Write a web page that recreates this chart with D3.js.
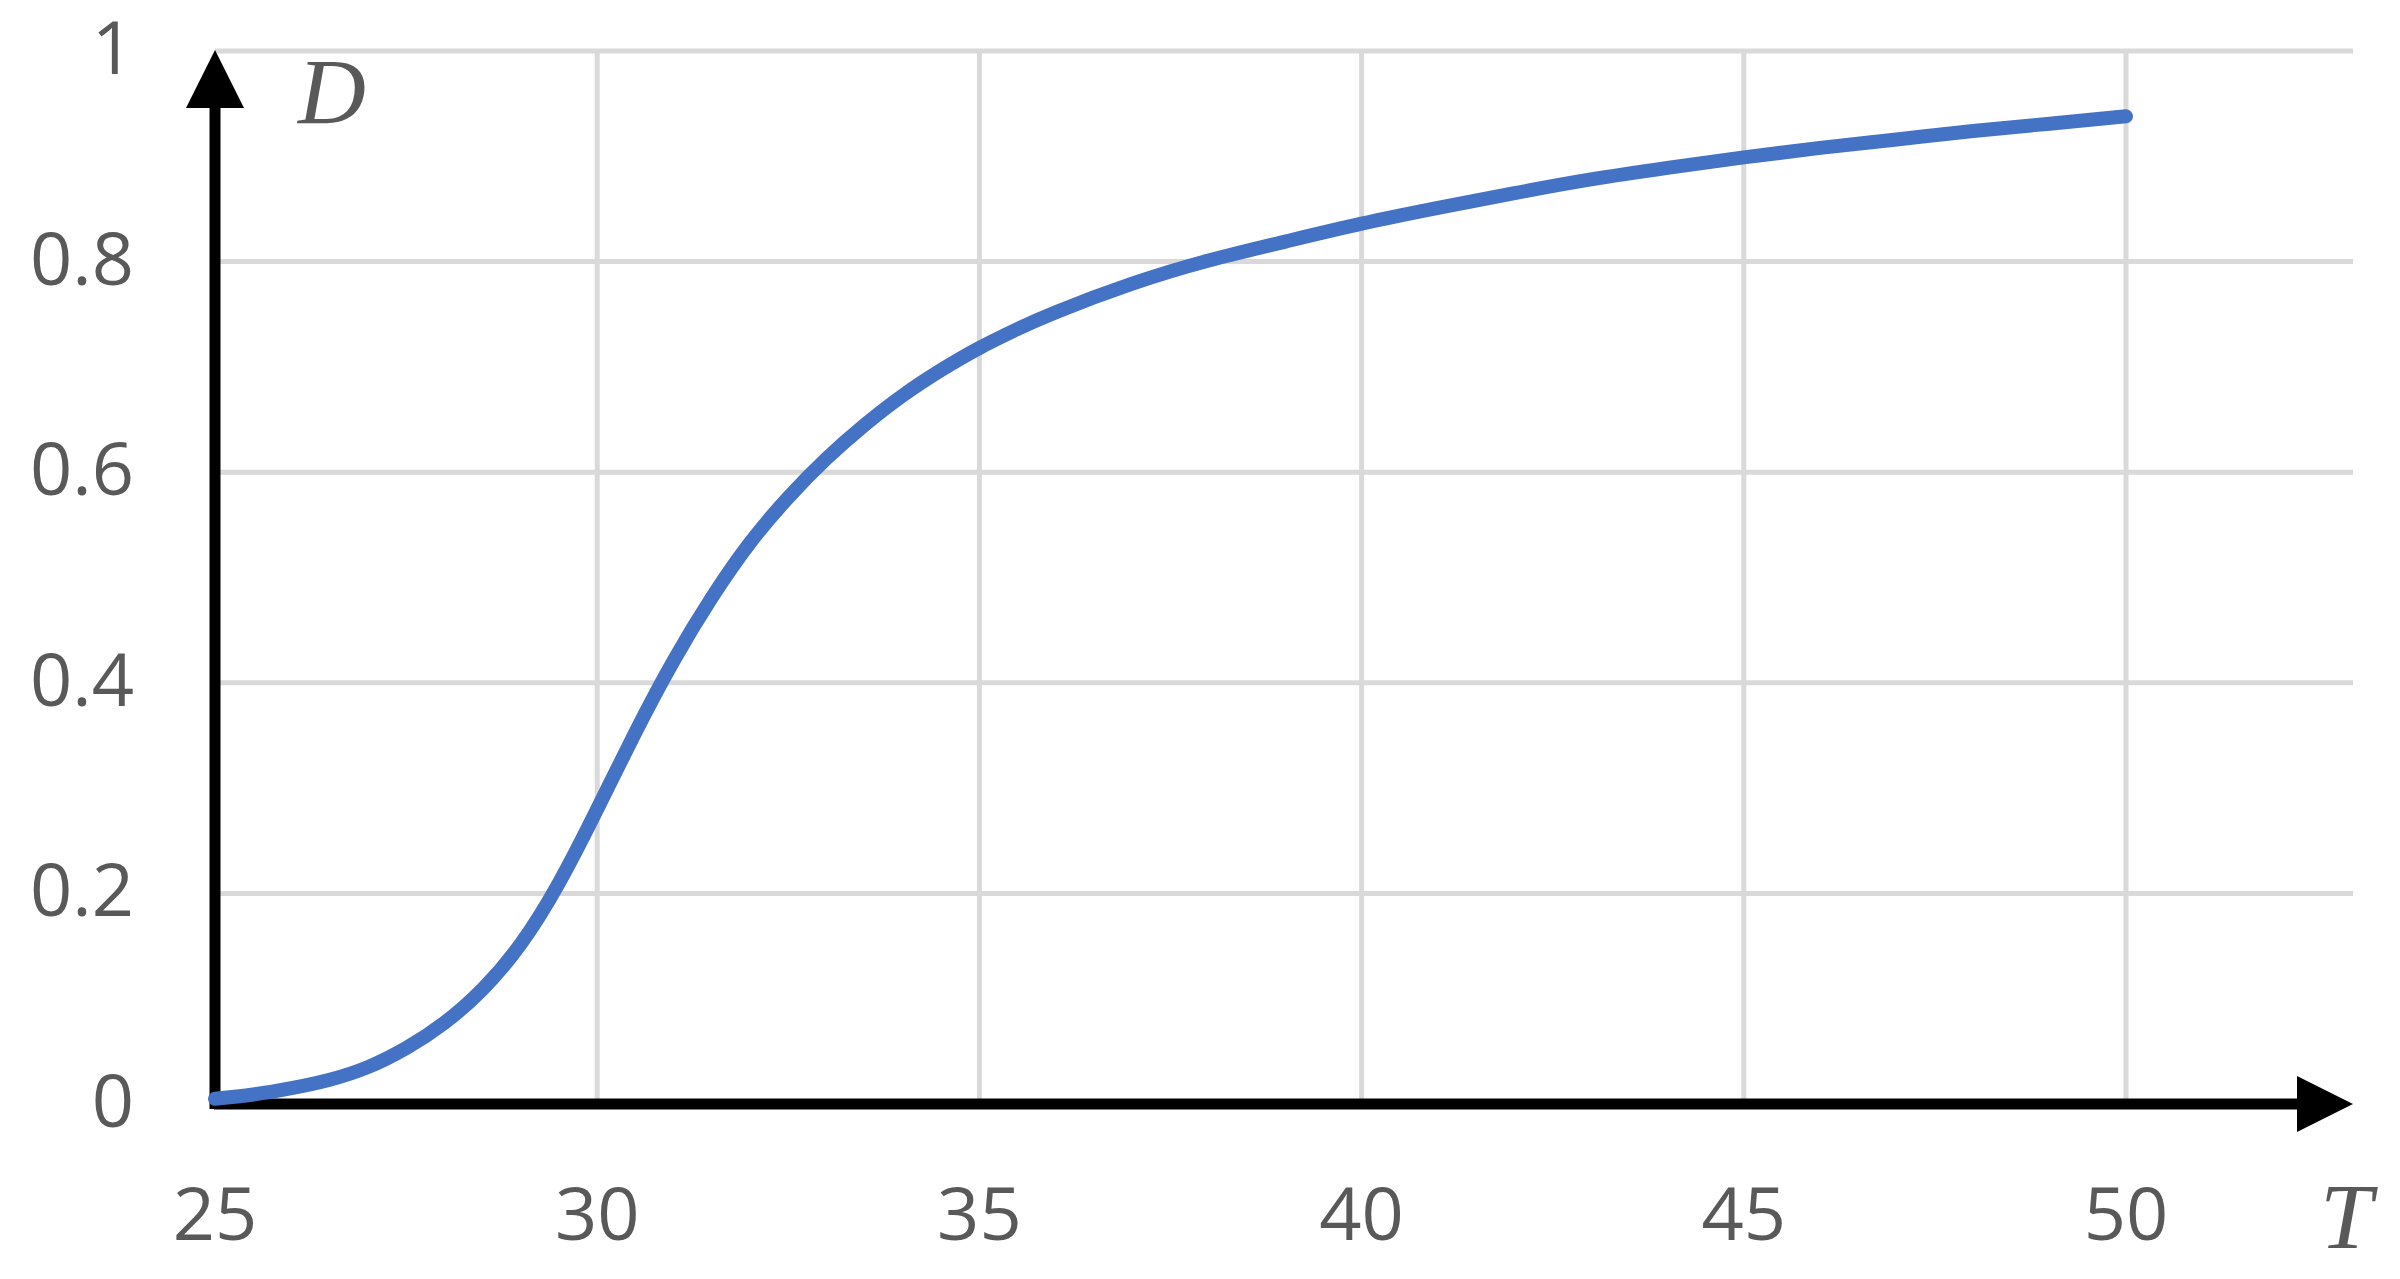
<!DOCTYPE html>
<html>
<head>
<meta charset="utf-8">
<script src="https://cdn.jsdelivr.net/npm/d3@7"></script>
<style>
  html, body { margin: 0; padding: 0; background: #fff; }
  svg { display: block; }
</style>
</head>
<body>
<svg id="chart" width="2400" height="1279"></svg>
<script>
// ---- data ----
const tValues = [25, 25.5, 26, 26.5, 27, 27.5, 28, 28.5, 29, 29.5, 30, 30.5, 31, 31.5, 32, 32.5, 33, 33.5, 34, 34.5, 35, 35.5, 36, 37, 38, 39, 40, 41, 42, 43, 44, 45, 46, 47, 48, 49, 50];
const dValues = [0.005, 0.009, 0.015, 0.023, 0.035, 0.053, 0.077, 0.109, 0.152, 0.210, 0.280, 0.353, 0.421, 0.481, 0.533, 0.576, 0.613, 0.645, 0.673, 0.697, 0.718, 0.736, 0.752, 0.779, 0.801, 0.819, 0.836, 0.851, 0.865, 0.878, 0.889, 0.899, 0.908, 0.916, 0.924, 0.931, 0.938];
const xTicks = [25, 30, 35, 40, 45, 50];
const yTicks = [0, 0.2, 0.4, 0.6, 0.8, 1];
const yTickLabels = ["0", "0.2", "0.4", "0.6", "0.8", "1"];
const xAxisTitle = "T";
const yAxisTitle = "D";

(function () {
// ---- layout ----
const svg = d3.select("#chart");
const pLeft = 215, pRight = 2353, pTop = 51, pBottom = 1104;
const x = d3.scaleLinear().domain([25, 50]).range([pLeft, 2126]);
const y = d3.scaleLinear().domain([0, 1]).range([pBottom, pTop]);

const gridColor = "#d9d9d9";
const textColor = "#595959";

// gridlines
const grid = svg.append("g");
grid.selectAll("line.h").data(yTicks.filter(d => d > 0)).join("line")
  .attr("class", "h")
  .attr("x1", pLeft).attr("x2", pRight)
  .attr("y1", d => y(d)).attr("y2", d => y(d))
  .attr("stroke", gridColor).attr("stroke-width", 5);
grid.selectAll("line.v").data(xTicks.filter(d => d > 25)).join("line")
  .attr("class", "v")
  .attr("x1", d => x(d)).attr("x2", d => x(d))
  .attr("y1", pTop).attr("y2", pBottom)
  .attr("stroke", gridColor).attr("stroke-width", 5);

// axes (arrows)
const axes = svg.append("g");
axes.append("line")
  .attr("x1", pLeft).attr("x2", pLeft)
  .attr("y1", pBottom + 5).attr("y2", pTop + 57)
  .attr("stroke", "#000").attr("stroke-width", 11);
axes.append("path")
  .attr("d", `M${pLeft},${pTop - 1} L${pLeft - 29},${pTop + 57} L${pLeft + 29},${pTop + 57} Z`)
  .attr("fill", "#000");
axes.append("line")
  .attr("x1", pLeft - 1).attr("x2", pRight - 56)
  .attr("y1", pBottom).attr("y2", pBottom)
  .attr("stroke", "#000").attr("stroke-width", 11);
axes.append("path")
  .attr("d", `M${pRight},${pBottom} L${pRight - 56},${pBottom - 28} L${pRight - 56},${pBottom + 28} Z`)
  .attr("fill", "#000");

// curve
const pts = tValues.map((t, i) => [t, dValues[i]]);
const line = d3.line().x(d => x(d[0])).y(d => y(d[1])).curve(d3.curveNatural);
svg.append("path")
  .attr("d", line(pts))
  .attr("fill", "none")
  .attr("stroke", "#4472C4")
  .attr("stroke-width", 14)
  .attr("stroke-linecap", "round")
  .attr("stroke-linejoin", "round");

// tick labels
const labels = svg.append("g")
  .attr("font-family", "'Open Sans', 'Noto Sans', sans-serif")
  .attr("font-size", 74)
  .attr("fill", textColor);
labels.selectAll("text.y").data(yTicks).join("text")
  .attr("class", "y")
  .attr("x", 134)
  .attr("y", d => y(d) + 23)
  .attr("text-anchor", "end")
  .text((d, i) => yTickLabels[i]);
labels.selectAll("text.x").data(xTicks).join("text")
  .attr("class", "x")
  .attr("x", d => x(d))
  .attr("y", 1240)
  .attr("text-anchor", "middle")
  .text(d => d);

// axis titles
svg.append("text")
  .attr("x", 298).attr("y", 123)
  .attr("font-family", "'Liberation Serif', 'DejaVu Serif', serif")
  .attr("font-style", "italic")
  .attr("font-size", 94)
  .attr("fill", textColor)
  .text(yAxisTitle);
svg.append("text")
  .attr("x", 2320).attr("y", 1248)
  .attr("font-family", "'Liberation Serif', 'DejaVu Serif', serif")
  .attr("font-style", "italic")
  .attr("font-size", 94)
  .attr("fill", textColor)
  .text(xAxisTitle);
})();
</script>
</body>
</html>
